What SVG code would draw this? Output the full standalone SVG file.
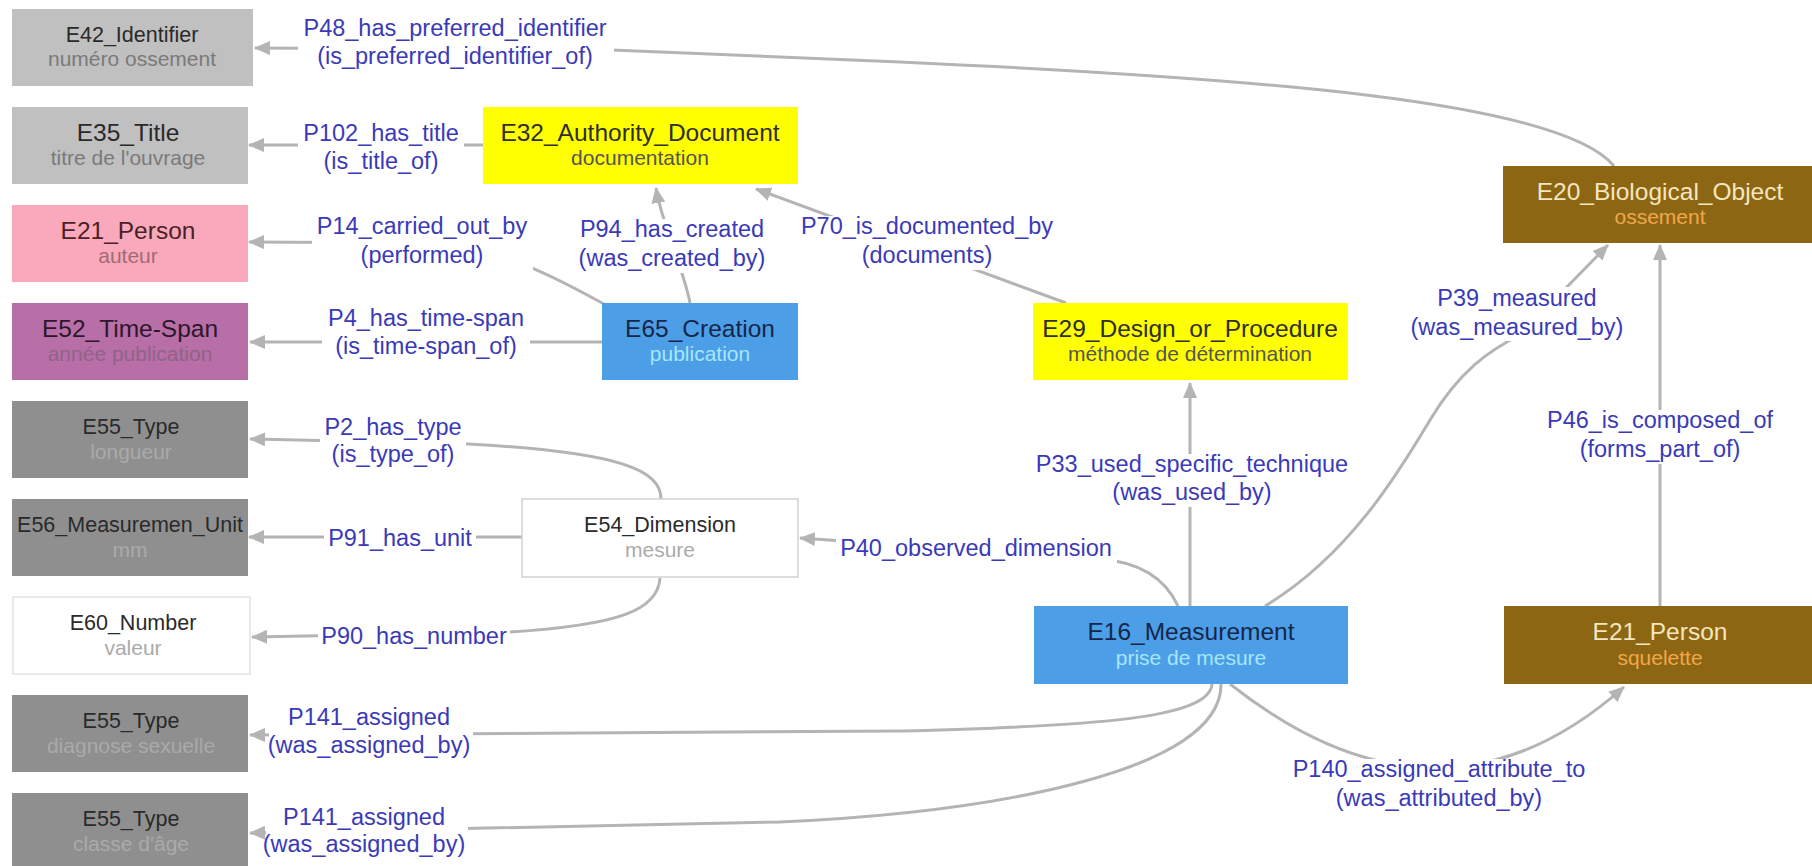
<svg xmlns="http://www.w3.org/2000/svg" width="1812" height="866" viewBox="0 0 1812 866">
<defs>
<marker id="arr" markerUnits="userSpaceOnUse" markerWidth="16" markerHeight="14" refX="15" refY="7" orient="auto">
<path d="M0,0 L16,7 L0,14 z" fill="#b4b4b4"/>
</marker>
<style>
text{font-family:"Liberation Sans",Arial,sans-serif;text-anchor:middle}
.t{font-size:21.5px}
.tb{font-size:24.5px}
.s{font-size:21px}
.edge{fill:none;stroke:#b4b4b4;stroke-width:3;marker-end:url(#arr)}
.lbg{fill:#ffffff}
.lbl{font-size:23.5px;fill:#3a3ab8}
.grayL{fill:#c0c0c0}
.grayD{fill:#8f8f8f}
.dk{fill:#2a2a2a}
.sgL{fill:#7a7a7a}
.sgD{fill:#aaaaaa}
.yel{fill:#ffff00}
.blue{fill:#4c9fe6}
.bt{fill:#16264a}
.bs{fill:#a6e6ff}
.brown{fill:#8c6613}
.brt{fill:#f5e6bd}
.brs{fill:#f0a848}
</style>
</defs>
<rect width="1812" height="866" fill="#ffffff"/>

<g id="connectors">
<path class="edge" d="M1614,166 C1560,100 1250,78 900,62 L612,50 L255,48"/>
<path class="edge" d="M483,145 L249,145"/>
<path class="edge" d="M604,304 C560,280 500,245 420,243 L249,242"/>
<path class="edge" d="M690,303 C684,270 662,225 656,188"/>
<path class="edge" d="M1066,303 L756,189"/>
<path class="edge" d="M602,342 L250,342"/>
<path class="edge" d="M661,499 C661,470 620,452 468,444 L250,439"/>
<path class="edge" d="M522,537 L249,537"/>
<path class="edge" d="M660,578 C658,610 620,625 510,632 L252,637"/>
<path class="edge" d="M1178,606 C1165,578 1140,562 1100,559 L800,538"/>
<path class="edge" d="M1190,606 L1190,383"/>
<path class="edge" d="M1265,606 C1350,555 1400,470 1430,420 C1460,370 1490,350 1520,335 L1608,245"/>
<path class="edge" d="M1660,606 L1660,245"/>
<path class="edge" d="M1230,684 Q1440,850 1624,687"/>
<path class="edge" d="M1212,684 C1210,718 1100,726 900,731 L250,735"/>
<path class="edge" d="M1221,684 C1222,770 1000,812 780,822 L250,833"/>
</g>

<g id="edge-labels">
<rect class="lbg" x="298" y="18" width="316" height="54"/>
<text class="lbl" x="455" y="36">P48_has_preferred_identifier</text>
<text class="lbl" x="455" y="64">(is_preferred_identifier_of)</text>

<rect class="lbg" x="298" y="124" width="166" height="52"/>
<text class="lbl" x="381" y="141">P102_has_title</text>
<text class="lbl" x="381" y="169">(is_title_of)</text>

<rect class="lbg" x="312" y="216" width="221" height="54"/>
<text class="lbl" x="422" y="234">P14_carried_out_by</text>
<text class="lbl" x="422" y="263">(performed)</text>

<rect class="lbg" x="574" y="219" width="197" height="54"/>
<text class="lbl" x="672" y="237">P94_has_created</text>
<text class="lbl" x="672" y="266">(was_created_by)</text>

<rect class="lbg" x="797" y="216" width="261" height="54"/>
<text class="lbl" x="927" y="234">P70_is_documented_by</text>
<text class="lbl" x="927" y="263">(documents)</text>

<rect class="lbg" x="322" y="308" width="208" height="54"/>
<text class="lbl" x="426" y="326">P4_has_time-span</text>
<text class="lbl" x="426" y="354">(is_time-span_of)</text>

<rect class="lbg" x="320" y="417" width="146" height="53"/>
<text class="lbl" x="393" y="435">P2_has_type</text>
<text class="lbl" x="393" y="462">(is_type_of)</text>

<rect class="lbg" x="324" y="526" width="152" height="27"/>
<text class="lbl" x="400" y="546">P91_has_unit</text>

<rect class="lbg" x="318" y="624" width="192" height="27"/>
<text class="lbl" x="414" y="644">P90_has_number</text>

<rect class="lbg" x="269" y="707" width="204" height="53"/>
<text class="lbl" x="369" y="725">P141_assigned</text>
<text class="lbl" x="369" y="753">(was_assigned_by)</text>

<rect class="lbg" x="266" y="807" width="202" height="52"/>
<text class="lbl" x="364" y="825">P141_assigned</text>
<text class="lbl" x="364" y="852">(was_assigned_by)</text>

<rect class="lbg" x="836" y="537" width="281" height="26"/>
<text class="lbl" x="976" y="556">P40_observed_dimension</text>

<rect class="lbg" x="1031" y="454" width="322" height="53"/>
<text class="lbl" x="1192" y="472">P33_used_specific_technique</text>
<text class="lbl" x="1192" y="500">(was_used_by)</text>

<rect class="lbg" x="1406" y="287" width="222" height="54"/>
<text class="lbl" x="1517" y="306">P39_measured</text>
<text class="lbl" x="1517" y="335">(was_measured_by)</text>

<rect class="lbg" x="1542" y="410" width="236" height="54"/>
<text class="lbl" x="1660" y="428">P46_is_composed_of</text>
<text class="lbl" x="1660" y="457">(forms_part_of)</text>

<rect class="lbg" x="1288" y="759" width="303" height="54"/>
<text class="lbl" x="1439" y="777">P140_assigned_attribute_to</text>
<text class="lbl" x="1439" y="806">(was_attributed_by)</text>
</g>

<g id="E42_Identifier">
<rect class="grayL" x="12" y="9" width="241" height="77"/>
<text class="t dk" x="132" y="42">E42_Identifier</text>
<text class="s sgL" x="132" y="66">numéro ossement</text>
</g>
<g id="E35_Title">
<rect class="grayL" x="12" y="107" width="236" height="77"/>
<text class="tb dk" x="128" y="141">E35_Title</text>
<text class="s sgL" x="128" y="165">titre de l'ouvrage</text>
</g>
<g id="E21_Person_auteur">
<rect x="12" y="205" width="236" height="77" fill="#f9a9bb"/>
<text class="tb" x="128" y="239" fill="#4a2226">E21_Person</text>
<text class="s" x="128" y="263" fill="#a06c74">auteur</text>
</g>
<g id="E52_Time-Span">
<rect x="12" y="303" width="236" height="77" fill="#b86ea6"/>
<text class="tb" x="130" y="337" fill="#2e162c">E52_Time-Span</text>
<text class="s" x="130" y="361" fill="#8e6488">année publication</text>
</g>
<g id="E55_Type_longueur">
<rect class="grayD" x="12" y="401" width="236" height="77"/>
<text class="t dk" x="131" y="434">E55_Type</text>
<text class="s sgD" x="131" y="459">longueur</text>
</g>
<g id="E56_Measurement_Unit">
<rect class="grayD" x="12" y="499" width="236" height="77"/>
<text class="t dk" x="130" y="532">E56_Measuremen_Unit</text>
<text class="s sgD" x="130" y="557">mm</text>
</g>
<g id="E60_Number">
<rect x="13" y="597" width="237" height="77" fill="#ffffff" stroke="#e2e2e2" stroke-width="1.5"/>
<text class="t dk" x="133" y="630">E60_Number</text>
<text class="s sgD" x="133" y="655">valeur</text>
</g>
<g id="E55_Type_diagnose">
<rect class="grayD" x="12" y="695" width="236" height="77"/>
<text class="t dk" x="131" y="728">E55_Type</text>
<text class="s sgD" x="131" y="753">diagnose sexuelle</text>
</g>
<g id="E55_Type_classe">
<rect class="grayD" x="12" y="793" width="236" height="77"/>
<text class="t dk" x="131" y="826">E55_Type</text>
<text class="s sgD" x="131" y="851">classe d'âge</text>
</g>

<g id="E32_Authority_Document">
<rect class="yel" x="483" y="107" width="315" height="77"/>
<text class="tb" x="640" y="141" fill="#2e2e2e">E32_Authority_Document</text>
<text class="s" x="640" y="165" fill="#555555">documentation</text>
</g>
<g id="E65_Creation">
<rect class="blue" x="602" y="303" width="196" height="77"/>
<text class="tb bt" x="700" y="337">E65_Creation</text>
<text class="s bs" x="700" y="361">publication</text>
</g>
<g id="E54_Dimension">
<rect x="522" y="499" width="276" height="78" fill="#ffffff" stroke="#d2d2d2" stroke-width="1.5"/>
<text class="t dk" x="660" y="532">E54_Dimension</text>
<text class="s sgD" x="660" y="557">mesure</text>
</g>
<g id="E29_Design_or_Procedure">
<rect class="yel" x="1033" y="303" width="315" height="77"/>
<text class="tb" x="1190" y="337" fill="#2e2e2e">E29_Design_or_Procedure</text>
<text class="s" x="1190" y="361" fill="#555555">méthode de détermination</text>
</g>
<g id="E16_Measurement">
<rect class="blue" x="1034" y="606" width="314" height="78"/>
<text class="tb bt" x="1191" y="640">E16_Measurement</text>
<text class="s bs" x="1191" y="665">prise de mesure</text>
</g>
<g id="E20_Biological_Object">
<rect class="brown" x="1503" y="166" width="315" height="77"/>
<text class="tb brt" x="1660" y="200">E20_Biological_Object</text>
<text class="s brs" x="1660" y="224">ossement</text>
</g>
<g id="E21_Person_squelette">
<rect class="brown" x="1504" y="606" width="313" height="78"/>
<text class="tb brt" x="1660" y="640">E21_Person</text>
<text class="s brs" x="1660" y="665">squelette</text>
</g>
</svg>
